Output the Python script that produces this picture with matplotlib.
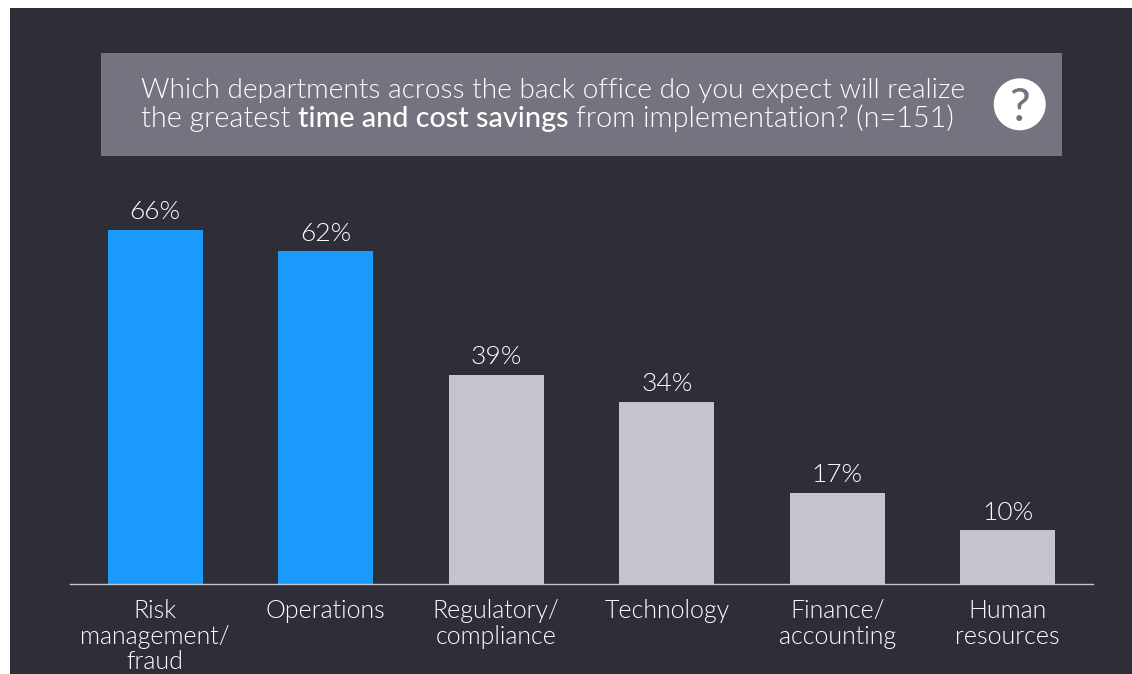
import matplotlib
matplotlib.use('Agg')
import matplotlib.pyplot as plt
from matplotlib.patches import Rectangle, Circle

# chart data
categories = ['Risk\nmanagement/\nfraud', 'Operations', 'Regulatory/\ncompliance', 'Technology', 'Finance/\naccounting', 'Human\nresources']
values = [66, 62, 39, 34, 17, 10]
bar_colors = ['#1a9bfc', '#1a9bfc', '#c4c4cd', '#c4c4cd', '#c4c4cd', '#c4c4cd']
line_1 = 'Which departments across the back office do you expect will realize'
line_2 = [('the greatest ', 300), ('time and cost savings', 500), (' from implementation? (n=151)', 300)]

W, H = 1132, 674
BG = '#2e2e38'
BOX = '#747480'
FONT = 'Lato'

fig = plt.figure(figsize=(W / 100, H / 100), dpi=100, facecolor='white')

# helper for pixel coords, origin top left
def px(x, y):
    return x / W, 1 - y / H

# dark panel behind everything
fig.patches.append(Rectangle((10 / W, 0), 1 - 10 / W, 1 - 8 / H, transform=fig.transFigure, facecolor=BG, edgecolor='none', zorder=-3))
# question box
fig.patches.append(Rectangle(px(101, 156), 961 / W, 103 / H, transform=fig.transFigure, facecolor=BOX, edgecolor='none', zorder=-2))

# axes runs from the baseline up to the panel top
ax = fig.add_axes([70 / W, 1 - 584 / H, 1023 / W, 576 / H])
ax.patch.set_alpha(0)
ax.bar(range(len(values)), values, width=0.557, color=bar_colors)
ax.set_xlim(-0.5, 5.5)
ax.set_ylim(0, 576 / 5.364)
for i, v in enumerate(values):
    ax.annotate(f'{v}%', (i, v), xytext=(0, 4.2), textcoords='offset points', ha='center', va='bottom',
                color='white', fontsize=19, family=FONT, fontweight=300)
ax.set_yticks([])
ax.set_xticks(range(len(values)))
ax.set_xticklabels(categories, color='white', fontsize=18, family=FONT, fontweight=300, linespacing=1.08)
ax.tick_params(axis='x', length=0, pad=11)
for s in ['top', 'left', 'right']:
    ax.spines[s].set_visible(False)
ax.spines['bottom'].set_color('#c4c4cd')
ax.spines['bottom'].set_linewidth(1)

# question text, second line mixes weights so it is put together from pieces
x0, y0 = px(141, 98)
fig.text(x0, y0, line_1, color='white', fontsize=20.2, family=FONT, fontweight=300, va='baseline')
fs = 20.7
r = fig.canvas.get_renderer()
cur = 141
y2 = px(0, 127)[1]
sp = fig.text(0, 0, 'n n', fontsize=fs, family=FONT, fontweight=300)
nn = fig.text(0, 0, 'nn', fontsize=fs, family=FONT, fontweight=300)
space = sp.get_window_extent(r).width - nn.get_window_extent(r).width
sp.remove()
nn.remove()
for piece, weight in line_2:
    lead = len(piece) - len(piece.lstrip())
    trail = len(piece) - len(piece.rstrip())
    cur += lead * space
    t = fig.text(cur / W, y2, piece.strip(), color='white', fontsize=fs, family=FONT, fontweight=weight, va='baseline')
    cur += t.get_window_extent(r).width + trail * space

# question mark badge
fig.patches.append(Circle((1019.7, H - 104.3), 26, transform=None, facecolor='white', edgecolor='none', zorder=-1))
fig.text(1019.7 / W, 1 - 121 / H, '?', color=BOX, fontsize=33, family=FONT, fontweight=500, ha='center', va='baseline')

fig.savefig('out.png', dpi=100)
